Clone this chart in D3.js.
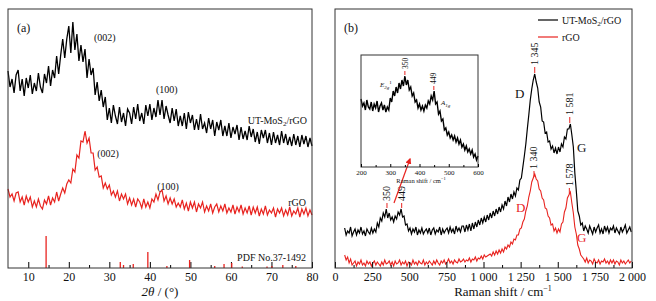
<!DOCTYPE html>
<html>
<head>
<meta charset="utf-8">
<script src="https://cdn.jsdelivr.net/npm/d3@7"></script>
<style>
  body { margin: 0; background: #fff; }
  text { font-family: "Liberation Serif", "Times New Roman", serif; fill: #111; }
</style>
</head>
<body>
<svg id="chart" width="656" height="301"></svg>
<script>
// ---- (a) XRD, 2θ from 5 to 80 in 0.5° steps ----
const xrdStart = 5, xrdStep = 0.5;
const xrdComposite = [197,181,189,175,193,198,177,189,172,190,180,193,174,185,177,195,181,175,194,185,
  202,182,198,190,212,194,213,229,210,229,242,
  215,246,218,234,207,223,206,219,190,209,193,200,173,186,167,178,161,171,148,160,
  145,163,152,144,161,146,155,142,159,155,
  144,161,149,164,147,155,144,163,152,164,148,160,151,168,153,168,149,162,153,145,
  160,147,159,142,152,142,155,139,156,145,
  153,138,149,138,154,139,145,135,150,139,148,132,146,138,148,132,142,132,145,130,
  141,134,143,128,141,129,137,128,142,131,
  139,126,136,124,138,130,138,125,135,123,136,125,133,123,137,125,134,123,131,122,
  134,123,132,121,133,124,132,121,130,122];
const xrdRGO = [79,71,74,67,75,76,66,71,63,72,66,71,61,67,61,69,62,59,68,64,
  72,63,70,66,76,67,74,80,75,84,88,
  85,99,96,113,110,127,126,137,125,130,115,115,98,101,91,92,80,85,79,83,
  73,77,71,77,67,74,69,74,64,70,
  63,69,61,69,66,60,69,61,66,60,69,66,74,68,76,78,67,72,64,70,
  64,69,61,65,61,68,59,65,57,66,
  60,66,56,64,60,66,56,62,57,64,55,61,64,56,62,57,64,55,60,56,
  63,54,61,56,63,54,60,55,62,53,
  61,55,61,52,59,54,62,53,58,55,60,51,59,55,60,52,58,53,61,52,
  57,54,60,51,59,54,60,52,58,53];
const pdfAngles  = [14.4, 32.7, 33.5, 35.9, 39.5, 44.2, 49.8, 56.0, 58.3, 60.2, 62.8, 68.9, 70.1, 72.8, 76.0];
const pdfHeights = [32, 6, 3, 4, 16, 2, 8, 2, 4, 5, 1.5, 1.5, 2, 3, 2];
const xrdTicks = [10, 20, 30, 40, 50, 60, 70, 80];

// ---- (b) Raman, 65 to 1995 cm-1 in 10 cm-1 steps ----
const ramanStart = 65, ramanStep = 10;
const ramanComposite = [40,33,37,35,41,32,36,39,33,38,35,41,34,37,32,39,36,34,40,35,
  39,36,45,41,50,47,55,51,59,50,55,48,51,46,52,49,56,53,59,51,
  52,43,44,37,40,34,39,36,41,33,38,35,40,34,37,39,35,40,33,38,
  40,34,38,36,41,33,39,35,38,40,35,41,36,39,34,42,37,40,36,42,
  42,36,43,38,44,37,45,39,46,41,48,43,50,45,51,46,53,48,55,50,
  57,52,59,54,61,56,63,59,67,62,71,66,74,69,76,72,80,78,88,90,
  101,112,124,139,153,168,179,188,194,186,180,166,161,147,146,135,136,126,127,119,
  122,115,120,114,121,116,124,121,131,129,139,139,144,133,121,95,77,57,52,43,
  45,37,42,39,35,42,38,34,41,36,40,43,35,39,34,42,37,41,35,40,
  38,42,35,40,37,34,41,36,39,43,35,38,41,36];
const ramanRGO = [13,8,11,5,9,3,5,7,2,6,4,8,3,5,2,7,4,6,2,5,
  7,3,6,4,2,6,3,8,4,5,7,3,6,2,7,4,5,8,3,6,
  4,7,2,6,5,3,8,4,6,3,7,5,4,8,3,6,4,7,5,3,
  7,4,8,5,3,7,5,8,4,6,9,5,7,4,8,6,5,9,6,7,
  9,6,8,7,10,6,9,8,11,7,10,9,12,9,13,11,12,13,14,12,
  16,13,17,14,18,15,19,16,21,19,23,21,26,24,29,28,33,33,39,40,
  46,49,57,62,71,77,86,90,94,89,87,79,77,70,68,60,59,52,50,43,
  44,37,40,35,39,36,44,46,56,60,70,73,76,65,55,41,34,23,19,13,
  11,9,6,10,5,8,7,4,9,6,5,8,4,7,6,9,5,7,4,8,
  5,8,4,7,6,3,8,5,7,4,6,8,5,7];
const ramanTicks = [0, 250, 500, 750, 1000, 1250, 1500, 1750, 2000];

// ---- inset, 200 to 600 cm-1 in 5 cm-1 steps ----
const insetStart = 200, insetStep = 5;
const insetComposite = [68,61,64,57,67,60,58,65,56,63,59,66,55,61,64,57,62,55,60,57,
  69,65,76,71,80,74,84,78,87,81,91,82,87,77,80,71,74,65,67,59,
  63,57,61,56,62,59,66,63,71,67,76,63,65,53,56,46,48,37,39,32,
  35,29,32,27,31,25,29,23,27,20,23,17,21,15,18,13,17,10,13,7,11];
const insetTicks = [200, 300, 400, 500, 600];

// peaks that get a red marker and a rotated label
const ramanPeaksComposite = [1345, 1581];
const ramanPeaksRGO = [1340, 1578];
const lowPeaks = [350, 449];

const svg = d3.select("#chart");
const font = '"Liberation Serif", "Times New Roman", serif';
const red = "#e8231f";

const toPts = (arr, start, step) => arr.map((v, i) => [start + i * step, v]);
const spaceFmt = v => d3.format(",")(v).replace(/,/g, " ");

// ================= panel (a) =================
const xA = d3.scaleLinear().domain([5, 80]).range([8, 312]);
const yA = d3.scaleLinear().domain([0, 259]).range([268, 9]);
const gA = svg.append("g");

const lineA = d3.line().x(d => xA(d[0])).y(d => yA(d[1]));
gA.append("path").attr("d", lineA(toPts(xrdRGO, xrdStart, xrdStep)))
  .attr("fill", "none").attr("stroke", red).attr("stroke-width", 1.2);
gA.append("path").attr("d", lineA(toPts(xrdComposite, xrdStart, xrdStep)))
  .attr("fill", "none").attr("stroke", "#000").attr("stroke-width", 1.3);

// axis ticks (inward)
const axA = gA.append("g").attr("transform", "translate(0,268)")
  .call(d3.axisBottom(xA).tickValues(xrdTicks).tickSizeInner(-6).tickSizeOuter(0).tickPadding(4));
axA.select(".domain").remove();
axA.selectAll("text").attr("font-size", 12).attr("font-family", font).style("fill", "#111");
const axAm = gA.append("g").attr("transform", "translate(0,268)")
  .call(d3.axisBottom(xA).tickValues(d3.range(15, 80, 10)).tickSizeInner(-3).tickSizeOuter(0).tickFormat(""));
axAm.select(".domain").remove();

// PDF sticks
gA.selectAll("line.pdf").data(pdfAngles).join("line")
  .attr("x1", d => xA(d)).attr("x2", d => xA(d))
  .attr("y1", yA(0)).attr("y2", (d, i) => yA(pdfHeights[i]))
  .attr("stroke", red).attr("stroke-width", 1.3);

gA.append("rect").attr("x", 8).attr("y", 9).attr("width", 304).attr("height", 259)
  .attr("fill", "none").attr("stroke", "#333").attr("stroke-width", 1);

// labels
gA.append("text").attr("x", 17).attr("y", 32).attr("font-size", 12).text("(a)");
gA.append("text").attr("x", xA(26.2)).attr("y", 41).attr("font-size", 10).text("(002)");
gA.append("text").attr("x", xA(41.5)).attr("y", 93).attr("font-size", 10).text("(100)");
gA.append("text").attr("x", xA(27.0)).attr("y", 157).attr("font-size", 10).text("(002)");
gA.append("text").attr("x", xA(41.8)).attr("y", 190).attr("font-size", 10).text("(100)");
const tA = gA.append("text").attr("x", 307).attr("y", 124).attr("font-size", 10).attr("text-anchor", "end");
tA.append("tspan").text("UT-MoS");
tA.append("tspan").attr("font-size", 7).attr("dy", 2).text("2");
tA.append("tspan").attr("dy", -2).text("/rGO");
gA.append("text").attr("x", 306).attr("y", 206).attr("font-size", 10).attr("text-anchor", "end").text("rGO");
gA.append("text").attr("x", 306).attr("y", 261).attr("font-size", 10).attr("text-anchor", "end").text("PDF No.37-1492");

const titA = gA.append("text").attr("x", 160).attr("y", 296).attr("font-size", 13).attr("text-anchor", "middle");
titA.append("tspan").attr("font-style", "italic").text("2θ");
titA.append("tspan").text(" / (°)");

// ================= panel (b) =================
const xB = d3.scaleLinear().domain([0, 2000]).range([335, 632]);
const yB = d3.scaleLinear().domain([0, 259]).range([268, 9]);
const gB = svg.append("g");
const lineB = d3.line().x(d => xB(d[0])).y(d => yB(d[1]));
const compPts = toPts(ramanComposite, ramanStart, ramanStep);
const rgoPts = toPts(ramanRGO, ramanStart, ramanStep);

gB.append("path").attr("d", lineB(rgoPts))
  .attr("fill", "none").attr("stroke", red).attr("stroke-width", 1.1);
gB.append("path").attr("d", lineB(compPts))
  .attr("fill", "none").attr("stroke", "#000").attr("stroke-width", 1.2);

const axB = gB.append("g").attr("transform", "translate(0,268)")
  .call(d3.axisBottom(xB).tickValues(ramanTicks).tickSizeInner(-6).tickSizeOuter(0).tickPadding(4).tickFormat(spaceFmt));
axB.select(".domain").remove();
axB.selectAll("text").attr("font-size", 12).attr("font-family", font).style("fill", "#111");
const axBm = gB.append("g").attr("transform", "translate(0,268)")
  .call(d3.axisBottom(xB).tickValues(d3.range(125, 2000, 250)).tickSizeInner(-3).tickSizeOuter(0).tickFormat(""));
axBm.select(".domain").remove();

gB.append("rect").attr("x", 335).attr("y", 9).attr("width", 297).attr("height", 259)
  .attr("fill", "none").attr("stroke", "#333").attr("stroke-width", 1);

// nearest sample helper
const valAt = (pts, x) => d3.least(pts, p => Math.abs(p[0] - x))[1];

// peak markers + rotated labels
function peakLabel(g, xs, ys, x, yv, size, gap, tick) {
  const px = xs(x), py = ys(yv);
  g.append("line").attr("x1", px).attr("x2", px).attr("y1", py - 1).attr("y2", py - 1 - tick)
    .attr("stroke", red).attr("stroke-width", 1);
  g.append("text").attr("transform", `translate(${px + size * 0.35},${py - 2 - tick - gap}) rotate(-90)`)
    .attr("font-size", size).text(spaceFmt(x));
}
ramanPeaksComposite.forEach(p => peakLabel(gB, xB, yB, p, valAt(compPts, p), 10, 1, 6));
ramanPeaksRGO.forEach(p => peakLabel(gB, xB, yB, p, valAt(rgoPts, p), 10, 1, 6));
lowPeaks.forEach(p => peakLabel(gB, xB, yB, p, valAt(compPts, p), 10, 1, 5));

// D / G
gB.append("text").attr("x", 515).attr("y", 98).attr("font-size", 13).text("D");
gB.append("text").attr("x", 577).attr("y", 152).attr("font-size", 13).text("G");
gB.append("text").attr("x", 516).attr("y", 212).attr("font-size", 13).style("fill", red).text("D");
gB.append("text").attr("x", 577).attr("y", 242).attr("font-size", 13).style("fill", red).text("G");

gB.append("text").attr("x", 344).attr("y", 32).attr("font-size", 12).text("(b)");

// legend
const legend = [["UT-MoS", "#000"], ["rGO", red]];
legend.forEach((d, i) => {
  const ly = 20 + i * 17;
  gB.append("line").attr("x1", 538).attr("x2", 558).attr("y1", ly).attr("y2", ly)
    .attr("stroke", d[1]).attr("stroke-width", 1.2);
  const t = gB.append("text").attr("x", 562).attr("y", ly + 3.5).attr("font-size", 10);
  t.append("tspan").text(d[0]);
  if (i === 0) {
    t.append("tspan").attr("font-size", 7).attr("dy", 2).text("2");
    t.append("tspan").attr("dy", -2).text("/rGO");
  }
});

const titB = gB.append("text").attr("x", 503).attr("y", 296).attr("font-size", 13).attr("text-anchor", "middle");
titB.append("tspan").text("Raman shift / cm");
titB.append("tspan").attr("font-size", 8).attr("dy", -5).text("−1");

// arrow to inset
svg.append("defs").append("marker").attr("id", "ah").attr("viewBox", "0 0 10 10")
  .attr("refX", 8).attr("refY", 5).attr("markerWidth", 5).attr("markerHeight", 5).attr("orient", "auto")
  .append("path").attr("d", "M0,0L10,5L0,10z").attr("fill", red);
gB.append("line").attr("x1", 394).attr("y1", 203).attr("x2", 410).attr("y2", 159)
  .attr("stroke", red).attr("stroke-width", 1.2).attr("marker-end", "url(#ah)");

// ================= inset =================
const xI = d3.scaleLinear().domain([200, 600]).range([361, 478]);
const yI = d3.scaleLinear().domain([0, 112]).range([167, 55]);
const gI = svg.append("g");
const insetPts = toPts(insetComposite, insetStart, insetStep);
gI.append("path").attr("d", d3.line().x(d => xI(d[0])).y(d => yI(d[1]))(insetPts))
  .attr("fill", "none").attr("stroke", "#000").attr("stroke-width", 1.4);
gI.append("rect").attr("x", 361).attr("y", 55).attr("width", 117).attr("height", 112)
  .attr("fill", "none").attr("stroke", "#333").attr("stroke-width", 1);
const axI = gI.append("g").attr("transform", "translate(0,167)")
  .call(d3.axisBottom(xI).tickValues(insetTicks).tickSizeInner(-3).tickSizeOuter(0).tickPadding(3));
axI.select(".domain").remove();
axI.selectAll("text").attr("font-size", 7).attr("font-family", font).style("fill", "#111");
const axIm = gI.append("g").attr("transform", "translate(0,167)")
  .call(d3.axisBottom(xI).tickValues(d3.range(250, 600, 100)).tickSizeInner(-2).tickSizeOuter(0).tickFormat(""));
axIm.select(".domain").remove();
const titI = gI.append("text").attr("x", 421).attr("y", 183).attr("font-size", 6.5).attr("text-anchor", "middle");
titI.append("tspan").text("Raman shift / cm");
titI.append("tspan").attr("font-size", 4.5).attr("dy", -3).text("−1");

lowPeaks.forEach(p => peakLabel(gI, xI, yI, p, valAt(insetPts, p), 7.5, 1, 4));
const eL = gI.append("text").attr("x", 380).attr("y", 87).attr("font-size", 7).attr("font-style", "italic");
eL.append("tspan").text("E");
eL.append("tspan").attr("font-size", 5).attr("dy", 2).text("2g");
eL.append("tspan").attr("font-size", 5).attr("dy", -5).attr("font-style", "normal").text("1");
const aL = gI.append("text").attr("x", 441).attr("y", 105).attr("font-size", 7).attr("font-style", "italic");
aL.append("tspan").text("A");
aL.append("tspan").attr("font-size", 5).attr("dy", 2).text("1g");
</script>
</body>
</html>
